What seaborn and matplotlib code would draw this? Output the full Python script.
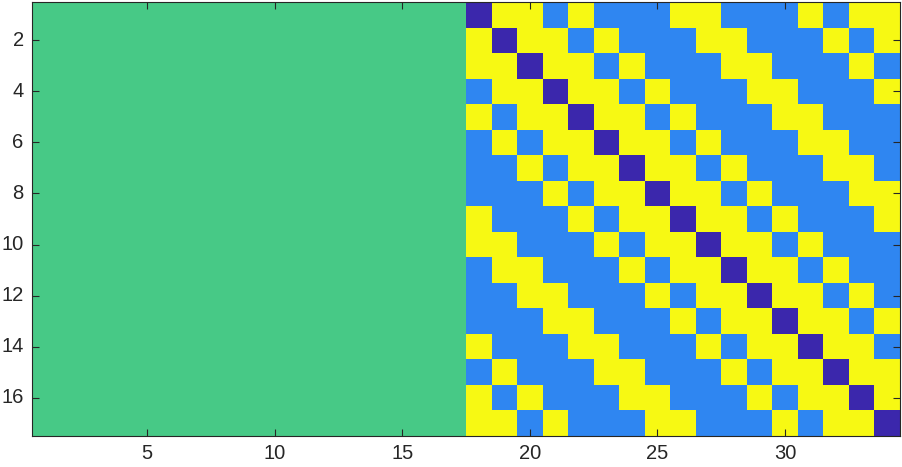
"""
Recreate the MATLAB-style imagesc block matrix: constant block | circulant block
"""

import numpy as np
import seaborn as sns
import matplotlib.pyplot as plt
from matplotlib.colors import ListedColormap

# ── Data ───────────────────────────────────────────────────────────────────────
N_ROWS = 17
LEFT_COLS = 17
LEFT_VALUE = 2                       # green block
# first row of the right-hand circulant block (0 = diagonal, 1 = blue, 3 = yellow)
FIRST_ROW = [0, 3, 3, 1, 3, 1, 1, 1, 3, 3, 1, 1, 1, 3, 1, 3, 3]
COLORS = ["#3B27AC", "#2F86F1", "#47C986", "#F7F913"]   # codes 0..3
XTICKS = [5, 10, 15, 20, 25, 30]
YTICKS = [2, 4, 6, 8, 10, 12, 14, 16]

# ── Build matrix ───────────────────────────────────────────────────────────────
left = np.full((N_ROWS, LEFT_COLS), LEFT_VALUE)
right = np.array([np.roll(FIRST_ROW, i) for i in range(N_ROWS)])
mat = np.hstack([left, right])

# ── Plot ───────────────────────────────────────────────────────────────────────
sns.set_theme(style="white")
plt.rcParams["font.family"] = ["Liberation Sans", "DejaVu Sans"]

fig = plt.figure(figsize=(9.03, 4.67), dpi=100)
ax = fig.add_axes([32 / 903, 31 / 467, 868 / 903, 434 / 467])

sns.heatmap(mat, cmap=ListedColormap(COLORS), vmin=-0.5, vmax=3.5,
            cbar=False, ax=ax, square=False)

ax.set_xticks([t - 0.5 for t in XTICKS])
ax.set_xticklabels([str(t) for t in XTICKS], rotation=0)
ax.set_yticks([t - 0.5 for t in YTICKS])
ax.set_yticklabels([str(t) for t in YTICKS], rotation=0)
ax.set_axisbelow(False)

for s in ax.spines.values():
    s.set_visible(True)
    s.set_color("#262626")
    s.set_linewidth(0.8)

ax.tick_params(axis="both", direction="in", length=5, width=0.8,
               colors="#262626", labelsize=14.5, pad=6,
               top=True, right=True, bottom=True, left=True)

fig.savefig("out.png", dpi=100)
